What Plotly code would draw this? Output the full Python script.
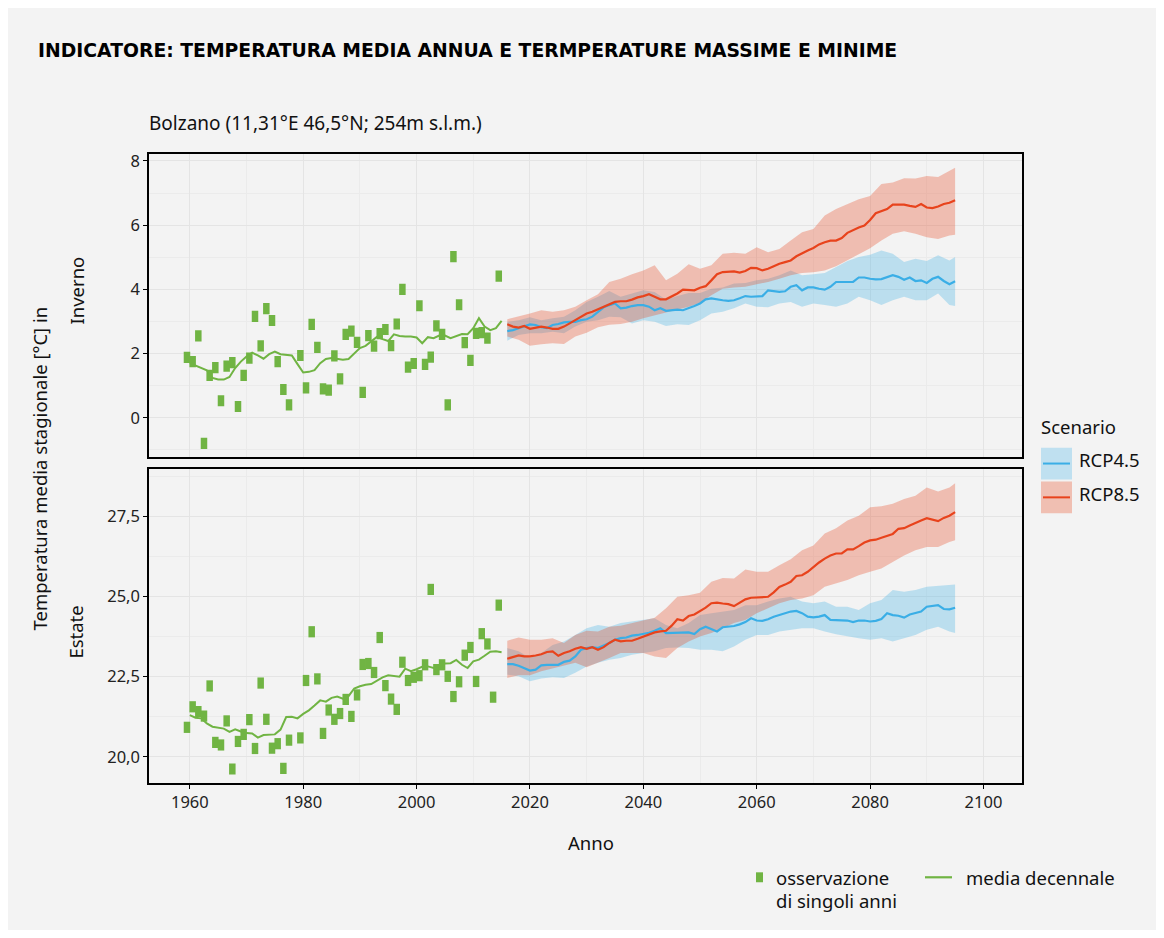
import plotly.graph_objects as go

# --- observations (winter / summer), 1960-2015 ---
obs_years = list(range(1960, 2016))
winter_obs = [1.88, 1.75, 2.55, -0.80, 1.32, 1.56, 0.53, 1.61, 1.72, 0.35,
              1.32, 1.86, 3.16, 2.24, 3.40, 3.03, 1.75, 0.88, 0.40, None,
              1.94, 0.93, 2.91, 2.19, 0.90, 0.86, 1.93, 1.21, 2.60, 2.70,
              2.35, 0.79, 2.56, 2.23, 2.62, 2.75, 2.25, 2.92, 4.00, 1.58,
              1.69, 3.49, 1.66, 1.89, 2.86, 2.60, 0.40, 5.02, 3.52, 2.34,
              1.79, 2.63, 2.65, 2.48, None, 4.41]
summer_obs = [20.92, 21.56, 21.41, 21.27, 22.21, 20.45, 20.37, 21.12, 19.62, 20.48,
              20.70, 21.16, 20.26, 22.30, 21.17, 20.27, 20.41, 19.64, 20.52, None,
              20.59, 22.38, 23.90, 22.43, 20.73, 21.46, 21.17, 21.35, 21.79, 21.26,
              21.93, 22.88, 22.91, 22.63, 23.72, 22.22, 21.80, 21.48, 22.95, 22.38,
              22.48, 22.53, 22.87, 25.22, 22.72, 22.87, 22.51, 21.88, 22.34, 23.17,
              23.41, 22.35, 23.84, 23.52, 21.86, 24.73]

# --- decadal running mean ---
winter_mean = [1.70, 1.63, 1.55, 1.48, 1.24, 1.19, 1.19, 1.27, 1.55, 1.75,
               1.91, 2.03, 1.94, 1.84, 1.98, 2.06, 1.98, 1.95, 1.94, 1.67,
               1.41, 1.43, 1.48, 1.70, 1.83, 1.86, 1.84, 1.81, 1.83, 2.01,
               2.17, 2.24, 2.39, 2.52, 2.45, 2.39, 2.60, 2.55, 2.53, 2.53,
               2.50, 2.32, 2.51, 2.48, 2.56, 2.56, 2.48, 2.55, 2.61, 2.60,
               2.79, 3.10, 2.84, 2.73, 2.79, 3.02]
summer_mean = [21.30, 21.22, 21.20, 21.04, 20.94, 20.91, 20.88, 20.78, 20.86, 20.79,
               20.74, 20.73, 20.60, 20.68, 20.70, 20.70, 20.85, 21.24, 21.25, 21.20,
               21.34, 21.45, 21.60, 21.76, 21.72, 21.84, 21.88, 21.81, 21.89, 22.13,
               22.20, 22.25, 22.27, 22.38, 22.48, 22.54, 22.51, 22.50, 22.75, 22.67,
               22.73, 22.81, 22.82, 22.77, 22.85, 22.91, 22.92, 23.02, 22.87, 22.77,
               22.98, 23.03, 23.15, 23.28, 23.29, 23.26]

# --- scenario projections (median), 2016-2095 ---
proj_years = list(range(2016, 2096))
winter_rcp45 = [2.70, 2.73, 2.79, 2.86, 2.91, 2.89, 2.82, 2.79, 2.89, 2.92,
                2.97, 2.99, 2.99, 3.04, 3.07, 3.15, 3.30, 3.44, 3.51, 3.56,
                3.41, 3.43, 3.48, 3.51, 3.51, 3.46, 3.35, 3.41, 3.33, 3.35,
                3.37, 3.35, 3.41, 3.48, 3.56, 3.69, 3.72, 3.68, 3.66, 3.64,
                3.66, 3.72, 3.79, 3.77, 3.77, 3.79, 3.97, 3.95, 3.92, 3.94,
                4.08, 4.13, 3.97, 4.06, 4.06, 4.02, 3.99, 4.08, 4.23, 4.23,
                4.23, 4.23, 4.37, 4.37, 4.33, 4.31, 4.32, 4.37, 4.44, 4.39,
                4.30, 4.37, 4.26, 4.28, 4.20, 4.33, 4.39, 4.26, 4.16, 4.25]
winter_rcp85 = [2.91, 2.84, 2.81, 2.86, 2.77, 2.81, 2.84, 2.81, 2.77, 2.77,
                2.84, 2.94, 3.04, 3.15, 3.25, 3.30, 3.38, 3.46, 3.54, 3.61,
                3.63, 3.63, 3.68, 3.75, 3.79, 3.85, 3.77, 3.69, 3.69, 3.77,
                3.87, 3.99, 3.99, 3.97, 4.05, 4.10, 4.28, 4.47, 4.54, 4.56,
                4.56, 4.52, 4.57, 4.67, 4.66, 4.59, 4.64, 4.72, 4.80, 4.85,
                4.90, 5.03, 5.13, 5.21, 5.29, 5.40, 5.47, 5.52, 5.52, 5.60,
                5.76, 5.85, 5.93, 5.99, 6.16, 6.37, 6.43, 6.50, 6.64, 6.64,
                6.64, 6.60, 6.57, 6.66, 6.55, 6.53, 6.58, 6.66, 6.70, 6.78]
summer_rcp45 = [22.89, 22.89, 22.84, 22.77, 22.69, 22.72, 22.85, 22.87, 22.87, 22.87,
                22.96, 23.00, 23.13, 23.34, 23.39, 23.42, 23.39, 23.46, 23.55, 23.65,
                23.70, 23.72, 23.78, 23.80, 23.83, 23.87, 23.93, 24.01, 23.86, 23.86,
                23.86, 23.86, 23.88, 23.83, 23.98, 24.06, 23.98, 23.91, 24.04, 24.06,
                24.08, 24.13, 24.20, 24.32, 24.25, 24.24, 24.29, 24.37, 24.42, 24.48,
                24.53, 24.55, 24.48, 24.37, 24.35, 24.37, 24.42, 24.27, 24.27, 24.25,
                24.25, 24.20, 24.25, 24.25, 24.22, 24.24, 24.30, 24.48, 24.42, 24.40,
                24.34, 24.44, 24.48, 24.53, 24.68, 24.70, 24.73, 24.61, 24.60, 24.65]
summer_rcp85 = [23.06, 23.11, 23.16, 23.13, 23.13, 23.16, 23.20, 23.27, 23.29, 23.15,
                23.24, 23.29, 23.37, 23.42, 23.37, 23.42, 23.34, 23.42, 23.55, 23.65,
                23.60, 23.62, 23.62, 23.68, 23.75, 23.82, 23.88, 23.91, 23.93, 24.09,
                24.29, 24.25, 24.39, 24.44, 24.55, 24.65, 24.79, 24.81, 24.78, 24.76,
                24.70, 24.81, 24.91, 24.96, 24.97, 24.97, 24.99, 25.13, 25.30, 25.37,
                25.46, 25.64, 25.66, 25.77, 25.92, 26.06, 26.18, 26.28, 26.34, 26.34,
                26.47, 26.47, 26.57, 26.68, 26.75, 26.77, 26.83, 26.90, 26.95, 27.11,
                27.13, 27.21, 27.30, 27.37, 27.44, 27.39, 27.35, 27.45, 27.52, 27.63]

# --- scenario spread (upper / lower), every second year ---
band_years = list(range(2016, 2096, 2)) + [2095]
winter_rcp45_hi = [2.99, 3.04, 3.13, 3.04, 3.10, 3.15, 3.35, 3.61, 3.77, 3.95,
                   3.77, 3.87, 3.97, 3.92, 3.68, 3.79, 3.89, 3.89, 4.02, 4.06,
                   4.18, 4.20, 4.28, 4.33, 4.44, 4.59, 4.44, 4.47, 4.51, 4.70,
                   4.88, 5.01, 5.08, 5.21, 5.11, 4.85, 4.95, 4.88, 5.06, 4.90, 5.01]
winter_rcp45_lo = [2.40, 2.58, 2.63, 2.63, 2.68, 2.63, 2.84, 2.99, 3.04, 3.15,
                   3.13, 2.94, 3.04, 2.99, 2.86, 2.91, 2.89, 3.04, 3.25, 3.30,
                   3.41, 3.56, 3.46, 3.44, 3.56, 3.61, 3.46, 3.56, 3.51, 3.46,
                   3.56, 3.77, 3.66, 3.51, 3.66, 3.77, 3.66, 3.66, 3.87, 3.51, 3.48]
winter_rcp85_hi = [3.07, 3.15, 3.25, 3.35, 3.30, 3.35, 3.46, 3.66, 3.85, 4.23,
                   4.33, 4.47, 4.59, 4.75, 4.28, 4.49, 4.78, 4.64, 4.75, 5.11,
                   5.14, 5.11, 5.31, 5.16, 5.26, 5.52, 5.78, 5.88, 6.30, 6.50,
                   6.66, 6.81, 6.91, 7.28, 7.33, 7.46, 7.45, 7.53, 7.50, 7.69, 7.79]
winter_rcp85_lo = [2.53, 2.43, 2.24, 2.29, 2.32, 2.30, 2.53, 2.65, 2.82, 2.90,
                   2.92, 2.99, 3.10, 3.20, 3.30, 3.37, 3.46, 3.58, 3.82, 4.02,
                   4.06, 4.08, 4.16, 4.23, 4.33, 4.44, 4.51, 4.53, 4.59, 4.72,
                   4.90, 5.09, 5.28, 5.52, 5.73, 5.81, 5.73, 5.62, 5.57, 5.68, 5.70]
summer_rcp45_hi = [23.39, 23.29, 23.08, 23.24, 23.49, 23.60, 23.80, 24.01, 24.11, 24.06,
                   24.17, 24.22, 24.27, 24.32, 24.11, 24.01, 24.17, 24.42, 24.48, 24.53,
                   24.58, 24.73, 24.73, 24.84, 24.94, 24.99, 24.84, 24.79, 24.84, 24.68,
                   24.68, 24.58, 24.79, 24.89, 25.20, 25.15, 25.20, 25.30, 25.33, 25.35, 25.37]
summer_rcp45_lo = [22.56, 22.51, 22.36, 22.44, 22.48, 22.46, 22.62, 22.82, 22.93, 23.03,
                   23.08, 23.18, 23.24, 23.29, 23.39, 23.41, 23.39, 23.34, 23.34, 23.29,
                   23.44, 23.65, 23.80, 23.80, 23.91, 23.96, 24.01, 24.01, 23.91, 23.82,
                   23.75, 23.70, 23.65, 23.70, 23.60, 23.70, 23.80, 23.96, 24.06, 23.91, 23.86]
summer_rcp85_hi = [23.62, 23.72, 23.65, 23.65, 23.70, 23.55, 23.80, 23.93, 23.91, 24.06,
                   24.09, 24.17, 24.24, 24.34, 24.63, 24.99, 25.04, 25.12, 25.46, 25.58,
                   25.56, 25.84, 25.77, 25.77, 25.97, 26.16, 26.44, 26.59, 26.96, 27.13,
                   27.37, 27.52, 27.78, 27.81, 27.89, 28.04, 28.14, 28.40, 28.27, 28.40, 28.53]
summer_rcp85_lo = [22.46, 22.54, 22.54, 22.67, 22.77, 22.85, 22.93, 22.79, 22.93, 23.08,
                   23.24, 23.24, 23.24, 23.13, 23.08, 23.39, 23.60, 23.75, 23.86, 24.01,
                   24.17, 24.27, 24.48, 24.63, 24.79, 24.89, 24.94, 25.04, 25.30, 25.41,
                   25.51, 25.66, 25.77, 25.87, 26.08, 26.28, 26.44, 26.54, 26.54, 26.70, 26.75]

GREEN = "#70b443"
BLUE = "#3aaee6"
RED = "#e8431c"
BLUE_FILL = "rgba(58,174,230,0.30)"
RED_FILL = "rgba(232,67,28,0.30)"
BG = "#f3f3f3"
FONT = "Noto Sans"

# the page body keeps an 8px margin, so the figure is shrunk by that on every side
OFF = 8
W, H = 1164 - 2 * OFF, 938 - 2 * OFF


def px(x):
    return (x - OFF) / W


def py(y):
    return 1 - (y - OFF) / H


fig = go.Figure()


def add_panel(xa, ya, obs, mean, p45, p85, hi45, lo45, hi85, lo85):
    # ribbons
    for hi, lo, col in [(hi45, lo45, BLUE_FILL), (hi85, lo85, RED_FILL)]:
        fig.add_trace(go.Scatter(
            x=band_years + band_years[::-1], y=hi + lo[::-1],
            fill="toself", fillcolor=col, line=dict(width=0),
            mode="lines", hoverinfo="skip", xaxis=xa, yaxis=ya))
    fig.add_trace(go.Scatter(x=proj_years, y=p45, mode="lines",
                             line=dict(color=BLUE, width=2.2), xaxis=xa, yaxis=ya))
    fig.add_trace(go.Scatter(x=proj_years, y=p85, mode="lines",
                             line=dict(color=RED, width=2.2), xaxis=xa, yaxis=ya))
    fig.add_trace(go.Scatter(x=obs_years, y=mean, mode="lines",
                             line=dict(color=GREEN, width=2), xaxis=xa, yaxis=ya))
    # observations sit half a year before the running mean
    fig.add_trace(go.Scatter(x=[y - 0.5 for y in obs_years], y=obs, mode="markers",
                             marker=dict(symbol="line-ns", size=8,
                                         line=dict(width=6.5, color=GREEN)),
                             xaxis=xa, yaxis=ya))


add_panel("x", "y", winter_obs, winter_mean, winter_rcp45, winter_rcp85,
          winter_rcp45_hi, winter_rcp45_lo, winter_rcp85_hi, winter_rcp85_lo)
add_panel("x2", "y2", summer_obs, summer_mean, summer_rcp45, summer_rcp85,
          summer_rcp45_hi, summer_rcp45_lo, summer_rcp85_hi, summer_rcp85_lo)

axis_common = dict(showline=True, mirror=True, linecolor="black", linewidth=1.5,
                   gridcolor="#e4e4e4", gridwidth=1.3, zeroline=False,
                   tickfont=dict(family=FONT, size=16.5, color="#222"),
                   tickcolor="black", tickwidth=1.3, ticklen=4)
x_common = dict(axis_common, range=[1952.8, 2106.8], tick0=1960, dtick=20,
                domain=[px(149), px(1022)],
                minor=dict(dtick=10, showgrid=True, gridcolor="#ebebeb", gridwidth=0.7))

fig.update_layout(
    width=W, height=H,
    margin=dict(l=0, r=0, t=0, b=0),
    paper_bgcolor=BG, plot_bgcolor=BG,
    showlegend=False,
    separators=",.",
    xaxis=dict(x_common, anchor="y", showticklabels=False, ticks=""),
    xaxis2=dict(x_common, anchor="y2", ticks="outside"),
    yaxis=dict(axis_common, anchor="x", domain=[py(454), py(150)],
               range=[-1.21, 8.21], tick0=0, dtick=2, ticks="outside",
               minor=dict(dtick=1, showgrid=True, gridcolor="#ebebeb", gridwidth=0.7)),
    yaxis2=dict(axis_common, anchor="x2", domain=[py(782), py(466)],
                range=[19.19, 28.99], tick0=20, dtick=2.5, tickformat=".1f",
                ticks="outside",
                minor=dict(dtick=1.25, showgrid=True, gridcolor="#ebebeb", gridwidth=0.7)),
)

shapes = [
    # scenario legend keys
    dict(type="rect", xref="paper", yref="paper", x0=px(1041), x1=px(1072),
         y0=py(477), y1=py(445), fillcolor="#bfe0f0", line=dict(width=0)),
    dict(type="line", xref="paper", yref="paper", x0=px(1043), x1=px(1070),
         y0=py(461), y1=py(461), line=dict(color=BLUE, width=2)),
    dict(type="rect", xref="paper", yref="paper", x0=px(1041), x1=px(1072),
         y0=py(511), y1=py(479), fillcolor="#f0bfb2", line=dict(width=0)),
    dict(type="line", xref="paper", yref="paper", x0=px(1043), x1=px(1070),
         y0=py(495), y1=py(495), line=dict(color=RED, width=2)),
    # observation legend keys
    dict(type="rect", xref="paper", yref="paper", x0=px(756), x1=px(763),
         y0=py(882), y1=py(872), fillcolor=GREEN, line=dict(width=0)),
    dict(type="line", xref="paper", yref="paper", x0=px(925), x1=px(952),
         y0=py(877), y1=py(877), line=dict(color=GREEN, width=2.2)),
]
fig.update_layout(shapes=shapes)


def label(text, x, y, size=18.5, anchor="left", angle=0, **font_kw):
    fig.add_annotation(text=text, x=px(x), y=py(y), xref="paper", yref="paper",
                       xanchor=anchor, yanchor="middle", showarrow=False,
                       textangle=angle,
                       font=dict(family=font_kw.get("family", FONT), size=size,
                                 color=font_kw.get("color", "#111"),
                                 weight=font_kw.get("weight", "normal")))


label("INDICATORE: TEMPERATURA MEDIA ANNUA E TERMPERATURE MASSIME E MINIME",
      36, 46, size=18.8, family="DejaVu Sans", weight="bold", color="black")
label("Bolzano (11,31°E 46,5°N; 254m s.l.m.)", 147, 119, size=19)
label("Temperatura media stagionale [°C] in", 40, 466, anchor="center", angle=-90)
label("Inverno", 76, 287, anchor="center", angle=-90)
label("Estate", 76, 631, anchor="center", angle=-90)
label("Anno", 591, 842, anchor="center")
label("Scenario", 1039, 424)
label("RCP4.5", 1077, 457)
label("RCP8.5", 1077, 491)
label("osservazione", 774, 877)
label("di singoli anni", 774, 900)
label("media decennale", 964, 877)

fig.write_html("out.html")
